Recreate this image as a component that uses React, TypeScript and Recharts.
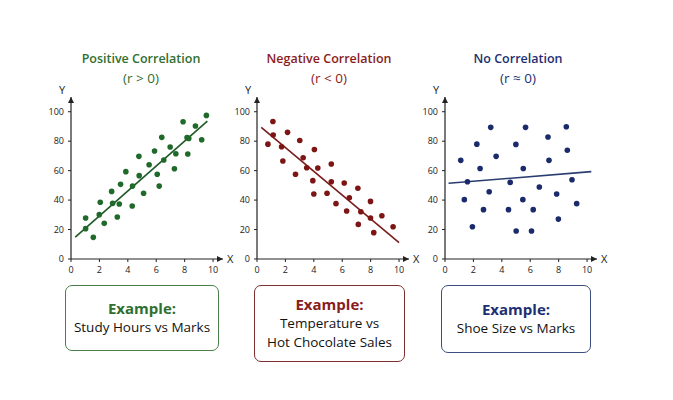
import React from "react";
import { ScatterChart, Scatter, XAxis, YAxis, ReferenceDot } from "recharts";

// ---------- data ----------
const xTicks = [0, 2, 4, 6, 8, 10];
const yTicks = [0, 20, 40, 60, 80, 100];

const posX = [1.03, 1.03, 1.57, 1.99, 2.06, 2.34, 2.86, 2.93, 3.26, 3.4, 3.49, 3.86, 4.31, 4.33, 4.78, 4.8, 5.11, 5.5, 5.88, 6.07, 6.21, 6.39, 6.53, 6.98, 7.28, 7.38, 7.89, 8.17, 8.22, 8.29, 8.76, 9.2, 9.53];
const posY = [27.8, 20.6, 14.7, 30.1, 38.5, 24.2, 45.9, 37.8, 28.5, 37.3, 50.7, 59.3, 36, 49.5, 69.7, 56.6, 44.6, 64, 73.3, 57.5, 49.5, 82.6, 67.2, 76, 61.3, 71.5, 93.2, 82.4, 71.3, 81.9, 90.3, 81, 97.5];
const posTrendX = [0.3, 9.6];
const posTrendY = [14.8, 93.6];

const negX = [0.77, 1.12, 1.14, 1.73, 1.82, 2.15, 2.71, 3.01, 3.25, 3.5, 3.93, 4.0, 4.04, 4.28, 4.93, 5.23, 5.23, 5.56, 6.14, 6.31, 6.5, 7.1, 7.13, 7.31, 7.99, 7.99, 8.22, 8.79, 9.58];
const negY = [78, 93.4, 84.2, 76.2, 66.5, 86, 57.5, 80.5, 68.8, 62, 53.2, 44.1, 74.4, 61.8, 44.6, 64.5, 52.5, 37.6, 51.6, 32.6, 41.6, 48, 23.5, 32.1, 39.1, 27.8, 17.9, 29.4, 21.9];
const negTrendX = [0.3, 10.0];
const negTrendY = [89.4, 11.1];

const noneX = [1.11, 1.36, 1.58, 1.93, 2.24, 2.47, 2.71, 3.11, 3.22, 3.6, 4.47, 4.59, 4.99, 5.01, 5.48, 5.51, 5.67, 6.09, 6.21, 6.64, 7.25, 7.32, 7.86, 7.98, 8.54, 8.61, 8.94, 9.27];
const noneY = [67, 40.3, 52.5, 21.9, 78, 61.5, 33.5, 45.7, 89.4, 69.7, 33.5, 52, 77.8, 19, 40.3, 61.5, 89.4, 19, 33.5, 48.9, 82.8, 67, 44.1, 27.1, 89.8, 73.8, 53.8, 37.6];
const noneTrendX = [0.25, 10.3];
const noneTrendY = [51.4, 59.3];

const titles = ["Positive Correlation", "Negative Correlation", "No Correlation"];
const subtitles = ["(r > 0)", "(r < 0)", "(r \u2248 0)"];
const exampleLines = [
  ["Study Hours vs Marks"],
  ["Temperature vs", "Hot Chocolate Sales"],
  ["Shoe Size vs Marks"],
];

// ---------- helpers ----------
const zip = (xs: number[], ys: number[]) => xs.map((x, i) => ({ x, y: ys[i] }));

const FONT = "'Open Sans', 'Noto Sans', sans-serif";
const AXIS = "#222";

const XArrow = (props: any) => {
  const { cx, cy } = props;
  return (
    <g>
      <polygon points={`${cx},${cy} ${cx - 6},${cy - 3} ${cx - 6},${cy + 3}`} fill={AXIS} />
      <text x={cx + 4} y={cy + 4} fontSize={11} fill={AXIS} fontFamily={FONT}>X</text>
    </g>
  );
};
const YArrow = (props: any) => {
  const { cx, cy } = props;
  return (
    <g>
      <polygon points={`${cx},${cy} ${cx - 3},${cy + 6} ${cx + 3},${cy + 6}`} fill={AXIS} />
      <text x={cx - 12} y={cy - 3} fontSize={11} fill={AXIS} fontFamily={FONT}>Y</text>
    </g>
  );
};
const NoDot = () => <g />;

type PanelProps = {
  x0: number;
  pts: { x: number; y: number }[];
  trend: { x: number; y: number }[];
  dot: string;
  line: string;
};

const Panel = ({ x0, pts, trend, dot, line }: PanelProps) => {
  const left = x0 - 35;
  return (
    <div style={{ position: "absolute", left, top: 80 }}>
      <ScatterChart width={207} height={204} margin={{ top: 17, right: 20, bottom: 5, left: 5 }}>
        <XAxis
          type="number"
          dataKey="x"
          domain={[0, 10.7]}
          ticks={xTicks}
          allowDataOverflow
          height={20}
          tickSize={3}
          tickMargin={5}
          axisLine={{ stroke: AXIS, strokeWidth: 1.2 }}
          tickLine={{ stroke: AXIS }}
          tick={{ fontSize: 9, fill: "#222", fontFamily: FONT }}
        />
        <YAxis
          type="number"
          dataKey="y"
          domain={[0, 110]}
          ticks={yTicks}
          allowDataOverflow
          width={30}
          tickSize={3}
          tickMargin={4}
          axisLine={{ stroke: AXIS, strokeWidth: 1.2 }}
          tickLine={{ stroke: AXIS }}
          tick={{ fontSize: 9, fill: "#222", fontFamily: FONT }}
        />
        <Scatter
          data={trend}
          line={{ stroke: line, strokeWidth: 1.6 }}
          shape={NoDot}
          isAnimationActive={false}
        />
        <Scatter data={pts} fill={dot} shape={(p: any) => <circle cx={p.cx} cy={p.cy} r={2.8} fill={dot} />} isAnimationActive={false} />
        <ReferenceDot x={10.7} y={0} r={0} ifOverflow="visible" shape={XArrow} />
        <ReferenceDot x={0} y={110} r={0} ifOverflow="visible" shape={YArrow} />
      </ScatterChart>
    </div>
  );
};

const colors = [
  { title: "#2f6f2f", dot: "#1f6a2a", line: "#1d5a25", border: "#4a7f4a" },
  { title: "#8a1c1c", dot: "#7d1515", line: "#7a1c1c", border: "#7d2f2f" },
  { title: "#1d2f72", dot: "#1a2a6a", line: "#2a3d70", border: "#3d4d7d" },
];

const centers = [141, 329, 518];
const boxes = [
  { left: 65, top: 285, width: 154, height: 66 },
  { left: 254, top: 285, width: 151, height: 77 },
  { left: 441, top: 285, width: 150, height: 68 },
];

export default function App() {
  const panels = [
    { x0: 71, pts: zip(posX, posY), trend: zip(posTrendX, posTrendY) },
    { x0: 257, pts: zip(negX, negY), trend: zip(negTrendX, negTrendY) },
    { x0: 445, pts: zip(noneX, noneY), trend: zip(noneTrendX, noneTrendY) },
  ];
  return (
    <div style={{ position: "absolute", left: 0, top: 0, width: 673, height: 400, background: "#fff", fontFamily: FONT, overflow: "hidden" }}>
      {titles.map((t, i) => (
        <div key={t} style={{ position: "absolute", left: centers[i] - 100, width: 200, top: 50, textAlign: "center", color: colors[i].title }}>
          <div style={{ fontSize: 12.5, fontWeight: 600, lineHeight: "18px" }}>{t}</div>
          <div style={{ fontSize: 13.5, lineHeight: "20px" }}>{subtitles[i]}</div>
        </div>
      ))}
      {panels.map((p, i) => (
        <Panel key={i} x0={p.x0} pts={p.pts} trend={p.trend} dot={colors[i].dot} line={colors[i].line} />
      ))}
      {boxes.map((b, i) => (
        <div
          key={i}
          style={{
            position: "absolute",
            left: b.left,
            top: b.top,
            width: b.width,
            height: b.height,
            boxSizing: "border-box",
            border: `1.5px solid ${colors[i].border}`,
            borderRadius: 7,
            display: "flex",
            flexDirection: "column",
            alignItems: "center",
            justifyContent: "center",
            textAlign: "center",
          }}
        >
          <div style={{ fontSize: 15, fontWeight: 700, color: colors[i].title, lineHeight: "19px" }}>Example:</div>
          {exampleLines[i].map((l) => (
            <div key={l} style={{ fontSize: 13.5, color: "#111", lineHeight: "19px" }}>{l}</div>
          ))}
        </div>
      ))}
    </div>
  );
}
